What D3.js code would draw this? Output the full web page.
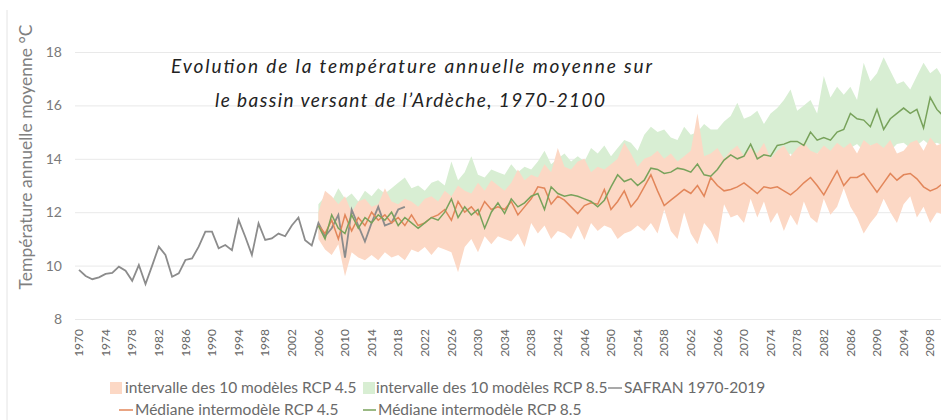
<!DOCTYPE html>
<html>
<head>
  <meta charset="utf-8">
  <script src="https://d3js.org/d3.v7.min.js"></script>
  <style>
    body { margin: 0; background: #fff; }
    text { font-family: Lato, "Liberation Sans", sans-serif; }
    .grid line { stroke: #e9e9e9; stroke-width: 1; }
    .grid path { display: none; }
    .legend text { fill: #6a6a6a; font-size: 15.5px; }
  </style>
</head>
<body>
<svg id="chart" width="941" height="420"></svg>
<script>
  "use strict";

  // SAFRAN observations 1970-2019
  var safran = [9.84, 9.61, 9.49, 9.56, 9.69, 9.73, 9.96, 9.81, 9.43, 10.02,
                9.31, 10.0, 10.71, 10.4, 9.58, 9.71, 10.21, 10.27, 10.71, 11.27,
                11.27, 10.65, 10.77, 10.58, 11.71, 11.08, 10.4, 11.58, 10.96, 11.02,
                11.2, 11.1, 11.5, 11.8, 10.95, 10.75, 11.6, 11.1, 11.4, 11.9,
                10.3, 12.1, 11.5, 10.9, 11.6, 12.2, 11.5, 11.6, 12.1, 12.2];

  // model outputs 2006-2100
  var median45 = [11.5, 11.2, 11.7, 11.0, 11.9, 11.3, 11.8, 11.5, 12.0, 11.7,
                  11.9, 11.6, 11.8, 11.5, 11.9, 11.5, 11.6, 11.8, 11.9, 12.1,
                  11.7, 12.4, 12.0, 12.2, 11.9, 12.4, 12.1, 12.2, 12.1, 12.4,
                  11.9, 12.2, 12.5, 12.95, 12.9, 12.3, 12.6, 12.45, 12.2, 11.95,
                  12.25, 12.35, 12.3, 12.85, 12.1, 12.4, 12.8, 12.2, 12.5, 12.95,
                  13.4, 12.8, 12.25, 12.45, 12.65, 12.85, 12.7, 13.0, 12.6, 13.3,
                  13.0, 12.8, 12.85, 12.95, 13.1, 12.9, 12.7, 12.95, 12.9, 12.95,
                  12.8, 12.65, 12.85, 13.1, 13.3, 13.0, 12.65, 13.1, 13.55, 13.0,
                  13.3, 13.3, 13.45, 13.1, 12.75, 13.1, 13.45, 13.2, 13.4, 13.45,
                  13.25, 12.95, 12.8, 12.9, 13.1];

  var median85 = [11.5, 11.0, 11.9, 11.4, 11.2, 11.9, 11.4, 11.8, 11.6, 11.9,
                  11.7, 12.0, 11.5, 11.8, 11.6, 11.4, 11.6, 11.8, 11.7, 12.0,
                  12.5, 11.8, 12.2, 11.9, 12.1, 11.4, 12.0, 12.35, 11.95, 12.5,
                  12.2, 12.35, 12.6, 12.7, 12.1, 12.95, 12.7, 12.6, 12.65, 12.6,
                  12.5, 12.4, 12.2, 12.45, 12.95, 13.4, 13.15, 13.25, 13.0, 13.2,
                  13.65, 13.6, 13.45, 13.5, 13.65, 13.6, 13.5, 13.8, 13.4, 13.35,
                  13.6, 13.95, 14.15, 14.0, 14.1, 14.55, 14.0, 14.15, 14.1, 14.5,
                  14.55, 14.65, 14.65, 14.5, 15.0, 14.7, 14.8, 14.7, 15.0, 15.1,
                  15.7, 15.5, 15.45, 15.2, 15.85, 15.1, 15.5, 15.7, 15.9, 15.7,
                  15.85, 15.15, 16.3, 15.85, 15.6];

  var min45 = [11.0, 10.6, 10.4, 10.8, 9.6, 10.5, 10.3, 10.2, 10.4, 10.2,
               10.5, 10.3, 10.4, 10.2, 10.6, 10.5, 10.7, 10.4, 10.7, 10.6,
               10.5, 9.75, 10.7, 11.0, 10.5, 11.1, 10.8, 11.1, 11.0, 10.9,
               11.2, 10.7, 11.6, 11.2, 11.5, 11.0, 11.3, 11.2, 11.0, 11.5,
               10.96, 11.6, 11.3, 11.5, 11.4, 11.0, 11.2, 11.3, 11.5, 11.3,
               11.6, 11.2, 12.1, 11.3, 11.0, 12.0, 11.2, 10.8, 11.6, 11.3,
               10.8, 12.3, 11.8, 11.9, 11.6, 12.5, 11.8, 12.4, 11.6, 12.0,
               11.3, 11.9, 11.5, 12.4, 11.8, 11.6, 12.5, 11.9, 12.2, 12.9,
               12.2, 11.8, 11.2, 11.6, 11.9, 12.5, 12.0, 11.6, 12.3, 12.6,
               11.8, 12.2, 11.6, 12.0, 11.9];

  var max45 = [12.0, 12.8, 12.6, 12.3, 12.6, 12.0, 12.4, 12.5, 12.2, 12.3,
               12.9, 12.4, 12.3, 12.5, 12.4, 12.2, 12.5, 12.6, 12.4, 12.8,
               12.6, 13.0, 12.8, 12.7, 13.1, 12.8, 13.2, 13.0, 12.8, 13.1,
               13.6, 13.2, 13.4, 13.3, 13.8, 13.5, 14.4, 13.7, 13.6, 13.9,
               14.0, 13.5, 13.7, 13.6, 13.8, 14.0, 14.6, 14.2, 13.7, 14.0,
               14.1, 14.3, 14.0, 14.2, 13.9, 14.1, 14.3, 15.7, 14.1, 14.2,
               14.4, 14.0, 14.3, 14.5, 14.1, 14.4, 14.2, 14.6, 14.0, 14.3,
               14.5, 14.1, 14.4, 14.6, 14.3, 14.2, 14.5, 14.3, 14.6, 14.4,
               14.6, 14.2, 14.7, 14.5, 14.6, 14.4, 14.7, 14.2, 14.3, 14.6,
               14.7, 14.3, 14.8, 14.5, 14.6];

  var min85 = [11.2, 10.9, 10.8, 11.0, 10.6, 10.9, 11.0, 10.8, 11.1, 11.0,
               11.1, 11.0, 11.2, 11.0, 11.3, 11.1, 11.2, 11.0, 11.3, 11.2,
               11.3, 11.0, 11.4, 11.3, 11.5, 11.2, 11.6, 11.4, 11.5, 11.7,
               11.6, 11.8, 11.9, 11.7, 12.0, 11.9, 12.1, 12.0, 12.3, 12.1,
               12.2, 12.4, 12.3, 12.6, 12.4, 12.7, 12.8, 12.6, 12.9, 12.8,
               13.0, 12.9, 13.1, 13.2, 13.0, 13.3, 13.4, 13.2, 13.3, 13.5,
               13.6, 13.4, 13.7, 13.8, 13.5, 13.9, 13.7, 14.0, 13.8, 14.1,
               14.0, 14.2, 13.9, 14.3, 14.1, 14.2, 14.4, 14.2, 14.3, 14.2,
               14.4, 14.55, 14.3, 14.5, 14.3, 14.4, 14.3, 14.55, 14.6, 14.4,
               14.5, 14.7, 14.5, 14.6, 14.5];

  var max85 = [12.3, 12.6, 12.4, 12.9, 12.5, 12.7, 12.4, 12.8, 12.6, 12.9,
               12.7, 12.9, 13.1, 13.3, 12.9, 13.0, 12.8, 13.1, 13.2, 13.0,
               13.9, 13.2, 13.5, 14.1, 13.4, 13.3, 13.6, 13.5, 13.4, 13.8,
               13.5, 13.7, 13.6, 13.9, 14.3, 13.8, 14.0, 14.2, 13.9, 14.1,
               13.9, 14.4, 14.2, 14.5, 14.1, 14.4, 14.7, 14.6, 14.3, 14.9,
               15.2, 15.0, 15.1, 14.8, 14.7, 15.2, 14.9, 15.0, 15.3, 15.1,
               15.1, 15.4, 15.6, 16.1, 15.5, 15.6, 15.8, 15.3, 15.7, 15.9,
               16.2, 16.6, 15.8, 16.0, 16.2, 15.7, 17.1, 16.3, 16.7, 16.4,
               16.7, 16.2, 17.6, 16.9, 17.2, 17.8, 17.3, 16.8, 16.9, 16.6,
               17.1, 17.6, 17.2, 17.4, 17.0];

  var yTicks = [8, 10, 12, 14, 16, 18];
  var xTickYears = d3.range(1970, 2099, 4);

  var titleLines = ["Evolution de la température annuelle moyenne sur",
                    "le bassin versant de l\u2019Ardèche, 1970-2100"];
  var yTitle = "Température annuelle moyenne °C";

  var colors = {
    band45: "#fcd8c5",
    band85: "#d8eed3",
    safran: "#8c8c8c",
    med45: "#e2865a",
    med85: "#78a25b"
  };

  var svg = d3.select("#chart");

  var x = d3.scaleLinear().domain([1970, 2100]).range([79, 943.5]);
  var y = d3.scaleLinear().domain([8, 18]).range([319, 52]);

  // chart frame edge on the left
  svg.append("line")
      .attr("x1", 7).attr("x2", 7)
      .attr("y1", 10).attr("y2", 420)
      .attr("stroke", "#e4e4e4");

  // horizontal gridlines
  svg.append("g")
      .attr("class", "grid")
      .attr("transform", "translate(75,0)")
      .call(d3.axisLeft(y).tickValues(yTicks).tickSize(-870).tickFormat(""));

  // y tick labels
  svg.append("g").selectAll("text")
      .data(yTicks)
      .enter().append("text")
      .attr("x", 62)
      .attr("y", function(d) { return y(d); })
      .attr("dy", "0.35em")
      .attr("text-anchor", "end")
      .style("fill", "#7a7a7a")
      .style("font-size", "14px")
      .text(function(d) { return d; });

  // y axis title
  svg.append("text")
      .attr("transform", "translate(26,157) rotate(-90)")
      .attr("text-anchor", "middle")
      .attr("dy", "0.35em")
      .style("fill", "#808080")
      .style("font-size", "17.5px")
      .text(yTitle);

  // x tick labels, rotated
  svg.append("g").selectAll("text")
      .data(xTickYears)
      .enter().append("text")
      .attr("transform", function(d) {
        return "translate(" + x(d) + ",329) rotate(-90)";
      })
      .attr("text-anchor", "end")
      .attr("dy", "0.35em")
      .style("fill", "#666")
      .style("font-size", "12px")
      .text(function(d) { return d; });

  /*
    Bands then lines
  */
  var modelYears = d3.range(2006, 2101);
  var modelRows = modelYears.map(function(yr, i) {
    return { year: yr, lo45: min45[i], hi45: max45[i], lo85: min85[i], hi85: max85[i],
             m45: median45[i], m85: median85[i] };
  });
  var safranRows = safran.map(function(v, i) { return { year: 1970 + i, t: v }; });

  var band85 = d3.area()
      .x(function(d) { return x(d.year); })
      .y0(function(d) { return y(d.lo85); })
      .y1(function(d) { return y(d.hi85); });
  var band45 = d3.area()
      .x(function(d) { return x(d.year); })
      .y0(function(d) { return y(d.lo45); })
      .y1(function(d) { return y(d.hi45); });

  svg.append("path").datum(modelRows).attr("d", band85).attr("fill", colors.band85);
  svg.append("path").datum(modelRows).attr("d", band45).attr("fill", colors.band45);

  function lineOf(key) {
    return d3.line()
        .x(function(d) { return x(d.year); })
        .y(function(d) { return y(d[key]); });
  }

  svg.append("path").datum(safranRows)
      .attr("d", lineOf("t"))
      .attr("fill", "none").attr("stroke", colors.safran).attr("stroke-width", 1.8);
  svg.append("path").datum(modelRows)
      .attr("d", lineOf("m45"))
      .attr("fill", "none").attr("stroke", colors.med45).attr("stroke-width", 1.5);
  svg.append("path").datum(modelRows)
      .attr("d", lineOf("m85"))
      .attr("fill", "none").attr("stroke", colors.med85).attr("stroke-width", 1.5);

  // title
  var title = svg.append("g")
      .style("font-style", "italic").style("font-size", "19px").style("fill", "#222");
  title.append("text")
      .attr("x", 171).attr("y", 73)
      .attr("textLength", 481).attr("lengthAdjust", "spacing")
      .text(titleLines[0]);
  title.append("text")
      .attr("x", 215).attr("y", 107)
      .attr("textLength", 390).attr("lengthAdjust", "spacing")
      .text(titleLines[1]);

  /* Legend */
  var legend = svg.append("g").attr("class", "legend");
  var entries = [
    { label: "intervalle des 10 modèles RCP 4.5", color: colors.band45, x: 110, tx: 125, y: 388, kind: "box" },
    { label: "intervalle des 10 modèles RCP 8.5", color: colors.band85, x: 363, tx: 376, y: 388, kind: "box" },
    { label: "SAFRAN 1970-2019", color: colors.safran, x: 608, tx: 624, y: 388, kind: "line" },
    { label: "Médiane intermodèle RCP 4.5", color: colors.med45, x: 119, tx: 135, y: 410, kind: "line" },
    { label: "Médiane intermodèle RCP 8.5", color: colors.med85, x: 363, tx: 378, y: 410, kind: "line" }
  ];
  var item = legend.selectAll("g").data(entries).enter().append("g");
  item.filter(function(d) { return d.kind == "box"; }).append("rect")
      .attr("x", function(d) { return d.x; })
      .attr("y", function(d) { return d.y - 6; })
      .attr("width", 12).attr("height", 12)
      .attr("fill", function(d) { return d.color; });
  item.filter(function(d) { return d.kind == "line"; }).append("line")
      .attr("x1", function(d) { return d.x; })
      .attr("x2", function(d) { return d.tx - 2; })
      .attr("y1", function(d) { return d.y; })
      .attr("y2", function(d) { return d.y; })
      .attr("stroke", function(d) { return d.color; }).attr("stroke-width", 1.5);
  item.append("text")
      .attr("x", function(d) { return d.tx; })
      .attr("y", function(d) { return d.y; })
      .attr("dy", "0.35em")
      .text(function(d) { return d.label; });
</script>
</body>
</html>
